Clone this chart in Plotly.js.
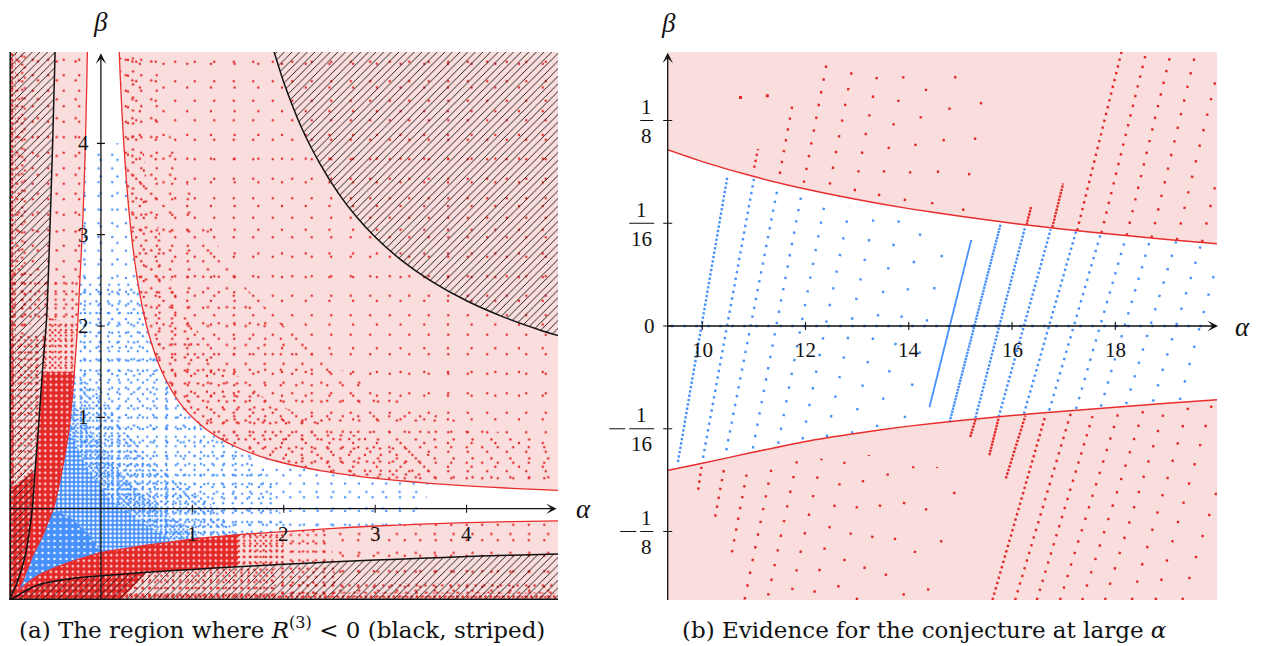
<!DOCTYPE html>
<html>
<head>
<meta charset="utf-8">
<script src="https://cdn.plot.ly/plotly-3.0.1.min.js"></script>
<style>
html,body{margin:0;padding:0;background:#ffffff;overflow:hidden;}
#chart{width:1262px;height:646px;}
</style>
</head>
<body>
<div id="chart"></div>
<script>
// ================= DATA =================
// ---- Panel (a): the (alpha, beta) plane, both axes from -1 to 5 ----
const aTicksA = [1, 2, 3, 4];
const bTicksA = [1, 2, 3, 4];

// upper red boundary curve
const upRedA_alpha = [0.197,0.21,0.23,0.25,0.275,0.3,0.33,0.36,0.4,0.45,0.5,0.56,0.63,0.7,0.8,0.9,1.0,1.15,1.3,1.5,1.75,2.0,2.4,2.8,3.2,3.6,4.0,4.5,5.0];
const upRedA_beta  = [5.08,4.76,4.35,4.0,3.64,3.33,3.03,2.78,2.5,2.22,2.0,1.79,1.59,1.43,1.25,1.11,1.0,0.87,0.77,0.667,0.571,0.5,0.417,0.357,0.3125,0.278,0.25,0.222,0.2];
// left red boundary curve (listed by beta)
const leftRedA_beta  = [-0.97,-0.9,-0.8,-0.7,-0.6,-0.52,-0.4,-0.3,-0.15,0,0.25,0.5,0.86,1.2,1.5,2.0,2.5,3.0,3.5,4.0,4.5,5.05];
const leftRedA_alpha = [-0.97,-0.91,-0.86,-0.82,-0.78,-0.75,-0.69,-0.64,-0.58,-0.52,-0.46,-0.41,-0.35,-0.315,-0.29,-0.255,-0.23,-0.205,-0.185,-0.17,-0.158,-0.147];
// lower red boundary curve
const lowRedA_alpha = [-0.97,-0.9,-0.8,-0.7,-0.6,-0.5,-0.374,-0.2,0,0.25,0.5,0.8,1.084,1.5,2.0,2.5,3.0,3.5,4.0,4.5,5.0];
const lowRedA_beta  = [-0.97,-0.9,-0.81,-0.74,-0.69,-0.645,-0.598,-0.54,-0.48,-0.44,-0.40,-0.36,-0.324,-0.285,-0.252,-0.218,-0.19,-0.17,-0.153,-0.142,-0.133];
// black curves bounding the striped region R^(3) < 0
const leftBlackA_beta  = [-1.0,-0.82,-0.525,-0.3,0,0.42,0.862,1.5,2.1,3.09,4.0,5.05];
const leftBlackA_alpha = [-1.0,-0.92,-0.83,-0.79,-0.75,-0.72,-0.685,-0.64,-0.593,-0.557,-0.528,-0.50];
const lowBlackA_alpha = [-1.0,-0.9,-0.8,-0.7,-0.6,-0.374,-0.2,0,0.5,1.0,1.5,2.0,2.5,3.0,3.5,4.0,4.5,5.05];
const lowBlackA_beta  = [-1.0,-0.945,-0.885,-0.84,-0.812,-0.773,-0.752,-0.735,-0.695,-0.665,-0.636,-0.609,-0.585,-0.563,-0.543,-0.525,-0.509,-0.494];
const urBlackA_alpha = [1.87,2.0,2.2,2.4,2.6,2.8,3.0,3.3,3.6,4.0,4.4,4.8,5.05];
const urBlackA_beta  = [5.08,4.67,4.16,3.77,3.45,3.19,2.975,2.71,2.50,2.276,2.10,1.957,1.88];
// edges of the density zones of the dots
const d0Edge_alpha = [-0.3,-0.12];
const d0Edge_beta  = [-0.12,-0.3];
const d1Edge_alpha = [-0.15,0.1,0.45];
const d1Edge_beta  = [0.45,0.1,-0.15];
const d1bEdge_alpha = [-0.08,0.3,0.75];
const d1bEdge_beta  = [0.8,0.3,-0.08];
const d2Edge_alpha = [-0.05,0.5,1.2];
const d2Edge_beta  = [1.3,0.55,0.05];
const bandA_alpha = [0.55,0.8,1.2,1.6,2.0,2.5,3.0,3.6,4.3,5.05];
const bandA_beta  = [5.1,3.9,3.0,2.4,2.0,1.6,1.3,1.05,0.85,0.7];
const bandB_alpha = [0.35,0.5,0.8,1.2,1.8,2.6,3.6];
const bandB_beta  = [5.1,3.6,2.4,1.7,1.2,0.85,0.6];

// ---- Panel (b): large alpha, beta in [-1/6, 1/6] ----
const aTicksB = [10, 12, 14, 16, 18];
const bTicksB = [-0.125, -0.0625, 0, 0.0625, 0.125];
const upRedB_alpha  = [9.3,10,11,12,13,14,15,16,17,18,19,20];
const upRedB_beta   = [0.1075,0.1,0.0909,0.0833,0.0769,0.0714,0.0667,0.0625,0.0588,0.0556,0.0526,0.05];
const lowRedB_alpha = [9.3,10,11,12,13,14,15,16,17,18,19,20];
const lowRedB_beta  = [-0.0880,-0.0835,-0.0767,-0.0702,-0.0652,-0.0609,-0.0575,-0.0545,-0.0518,-0.0494,-0.0470,-0.0448];
// rows of dots: [alpha start, beta start, alpha end, beta end]
const blueRowsB = [
  [9.528,-0.0827,10.486,0.0907],[10.014,-0.0802,11.0,0.0895],[10.465,-0.0756,11.47,0.0857],
  [10.98,-0.0745,11.92,0.0800],[11.47,-0.0716,12.38,0.0760],[11.94,-0.0690,12.86,0.0730],
  [12.41,-0.0675,13.35,0.0700],[12.90,-0.0655,13.82,0.0660],[13.38,-0.0615,14.25,0.0600],
  [13.92,-0.0560,14.67,0.0470],[14.40,-0.0494,15.21,0.0524],[14.79,-0.0585,15.78,0.0621],
  [15.29,-0.0560,16.25,0.0599],[15.74,-0.0554,16.75,0.0589],[16.23,-0.0534,17.24,0.0575],
  [16.72,-0.0514,17.71,0.0554],[17.24,-0.0504,18.21,0.0545],[17.72,-0.0490,18.68,0.0530],
  [18.21,-0.0475,19.18,0.0515],[18.73,-0.0460,19.67,0.0505],[19.25,-0.0450,19.97,0.0380]
];
const axisRowB = [[9.4,0,19.9,0]];
const redUpRowsB = [
  [11.004,0.0962,11.08,0.1077],[11.50,0.0925,11.747,0.1347],[11.966,0.0871,12.436,0.1640],
  [12.468,0.0860,12.938,0.1620],[12.951,0.0820,13.422,0.1580],[13.42,0.0790,13.906,0.1533],
  [13.92,0.0760,14.36,0.1480],[14.45,0.0740,14.95,0.1600],[15.05,0.0700,15.45,0.1450],
  [16.28,0.0615,16.37,0.0726],[16.78,0.0600,16.99,0.0867],[17.26,0.0580,18.12,0.1667],
  [17.73,0.0565,18.60,0.1667],[18.22,0.0550,19.08,0.1667],[18.70,0.0536,19.56,0.1667],
  [19.19,0.0522,19.97,0.1530],[19.68,0.0510,19.97,0.0900]
];
const redLowRowsB = [
  [9.92,-0.0996,9.985,-0.0856],[10.25,-0.1160,10.42,-0.0872],[10.574,-0.1377,10.857,-0.0903],
  [10.82,-0.1663,11.34,-0.0868],[11.275,-0.1640,11.86,-0.0781],[11.74,-0.1606,12.31,-0.0807],
  [12.17,-0.1622,12.77,-0.0811],[12.63,-0.1590,13.23,-0.0785],[12.99,-0.1667,13.73,-0.0727],
  [13.55,-0.1520,14.09,-0.0853],[13.895,-0.1640,14.55,-0.0858],[14.37,-0.1610,14.89,-0.1004],
  [15.19,-0.0675,15.29,-0.0570],[15.56,-0.0786,15.74,-0.0560],[15.88,-0.0927,16.26,-0.0545],
  [15.62,-0.1667,16.65,-0.0540],[16.06,-0.1667,17.14,-0.0529],[16.48,-0.1667,17.56,-0.0548],
  [16.93,-0.1667,18.08,-0.0508],[17.36,-0.1667,18.56,-0.0497],[17.80,-0.1667,18.98,-0.0486],
  [18.32,-0.1667,19.43,-0.0477],[18.78,-0.1667,19.88,-0.0467],[19.30,-0.1667,19.97,-0.1000]
];
const redDotsB_alpha = [10.74, 11.26];
const redDotsB_beta  = [0.139, 0.140];

const captionA = '(a) The region where <i>R</i><sup>(3)</sup> &lt; 0 (black, striped)';
const captionB = '(b) Evidence for the conjecture at large <i>α</i>';

// ================= STYLE =================
const PINK = 'rgb(250,221,221)';
const RED = 'rgb(228,40,40)';
const REDLINE = 'rgb(233,45,45)';
const BLUE = 'rgb(72,145,252)';
const BLACK = '#111111';
const SPECK = 'rgb(252,212,212)';
const BSPECK = 'rgb(240,246,255)';
const SERIF = 'Liberation Serif, DejaVu Serif, serif';
const DOT = 2.4;
const blueRowPitch = [4.4,6.7,9,11.5,14,17,20,24,28,33,0,3.2,3.8,4.5,5.5,7.5,10,12,14,16,18];
const axisRowPitch = [12];
const redUpPitch = [6,11,13,16,19,24,28,32,36,3.2,3.4,7,10,12,14,16,18];
const redLowPitch = [7,9,11,13,15,19,22,27,32,37,44,50,3.2,3.2,3.8,5.5,8,9.5,12,14,16,18,20,22];
// pairs of lattice sizes (px) giving each dot density
const SPARSE = [19.5, 23.7], LOWMID = [15.5, 18.9], MID = [13, 15.8], BMID = [13.7, 16.6],
      MIDDENSE = [9.5, 11.6], MEDIUM = [8.4, 10.3], DENSE = [6.2, 7.6], VDENSE = [5.4, 6.6],
      EDGE = [4.6, 5.7], DENSEST = [4.4, 5.3];

// ================= BUILD =================
const seg = (a, i, j) => a.slice(i, j + 1);
const rev = a => a.slice().reverse();
const traces = [];
const TR = 'rgba(0,0,0,0)';

function area(xs, ys, pattern, xa, ya, solid) {
  const t = {type:'scatter', mode:'lines', x:xs, y:ys, xaxis:xa||'x', yaxis:ya||'y',
    fill:'toself', line:{width:0, color:TR}, hoverinfo:'skip', showlegend:false};
  if (pattern) { t.fillpattern = pattern; t.fillcolor = TR; } else { t.fillcolor = solid; }
  traces.push(t);
}
function dots(size, color, bg, r) {
  r = r || 1.2;
  return {shape:'.', size:size, solidity:Math.min(0.7, Math.PI*r*r/(size*size)), fgcolor:color, bgcolor:bg||TR};
}
function zone(xs, ys, sizes, color) { sizes.forEach(s => area(xs, ys, dots(s, color))); }
function curve(xs, ys, color, width, xa, ya) {
  traces.push({type:'scatter', mode:'lines', x:xs, y:ys, xaxis:xa||'x', yaxis:ya||'y',
    line:{color:color, width:width, shape:'spline', smoothing:0.6}, hoverinfo:'skip', showlegend:false});
}
function rows(ends, pitches, color, xa, ya) {
  ends.forEach((e, i) => {
    const p = pitches[i];
    traces.push({type:'scatter', mode:'lines', x:[e[0], e[2]], y:[e[1], e[3]], xaxis:xa, yaxis:ya,
      hoverinfo:'skip', showlegend:false,
      line:{color:color, width: p <= DOT ? 1.8 : DOT, dash: p <= DOT ? 'solid' : (DOT + 'px,' + (p - DOT).toFixed(2) + 'px')}});
  });
}

// ---- panel (a) ----
// white region between the red curves
area(rev(leftRedA_alpha).concat(lowRedA_alpha.slice(1), [5.05, 5.05], rev(upRedA_alpha)),
     rev(leftRedA_beta).concat(lowRedA_beta.slice(1), [-0.133, 0.2], rev(upRedA_beta)), null, 'x', 'y', '#ffffff');
// blue dot zones (density grows towards the corner)
zone(seg(leftRedA_alpha,0,19).concat(seg(upRedA_alpha,3,25), rev(seg(lowRedA_alpha,0,17))),
     seg(leftRedA_beta,0,19).concat(seg(upRedA_beta,3,25), rev(seg(lowRedA_beta,0,17))), BMID, BLUE);
zone(seg(leftRedA_alpha,0,16).concat(seg(upRedA_alpha,8,19), [1.9], rev(seg(lowRedA_alpha,0,14))),
     seg(leftRedA_beta,0,16).concat(seg(upRedA_beta,8,19), [0.3], rev(seg(lowRedA_beta,0,14))), MIDDENSE, BLUE);
zone(seg(leftRedA_alpha,0,14).concat(d2Edge_alpha, rev(seg(lowRedA_alpha,0,13))),
     seg(leftRedA_beta,0,14).concat(d2Edge_beta, rev(seg(lowRedA_beta,0,13))), DENSE, BLUE);
zone(seg(leftRedA_alpha,0,13).concat(d1bEdge_alpha, rev(seg(lowRedA_alpha,0,12))),
     seg(leftRedA_beta,0,13).concat(d1bEdge_beta, rev(seg(lowRedA_beta,0,12))), DENSEST, BLUE);
area(seg(leftRedA_alpha,0,12).concat(d1Edge_alpha, rev(seg(lowRedA_alpha,0,11))),
     seg(leftRedA_beta,0,12).concat(d1Edge_beta, rev(seg(lowRedA_beta,0,11))), dots(4.3, BSPECK, BLUE, 1.4));
area(seg(leftRedA_alpha,0,9).concat(d0Edge_alpha, rev(seg(lowRedA_alpha,0,8))),
     seg(leftRedA_beta,0,9).concat(d0Edge_beta, rev(seg(lowRedA_beta,0,8))), dots(6, BSPECK, BLUE, 1.2));
// red dot zones, left side
// solid part: strip between the black and red curves up to beta 1.5, striped part up to about beta 0.2..0.4
area([-1.02,-1.02].concat(seg(leftBlackA_alpha,5,7), rev(seg(leftRedA_alpha,0,14))),
     [-1.02,0.2].concat(seg(leftBlackA_beta,5,7), rev(seg(leftRedA_beta,0,14))), dots(5.5, SPECK, RED, 1.3));
zone(seg(leftBlackA_alpha,7,8).concat(rev(seg(leftRedA_alpha,14,15))), seg(leftBlackA_beta,7,8).concat(rev(seg(leftRedA_beta,14,15))),
     VDENSE, RED);
zone([-1.02,-1.02,-0.6].concat(rev(seg(leftBlackA_alpha,5,7))), [0.2,1.9,1.9].concat(rev(seg(leftBlackA_beta,5,7))), DENSE, RED);
zone([-1.02,-1.02].concat(rev(seg(leftRedA_alpha,15,16)), [-0.593]), [1.9,2.6].concat(rev(seg(leftRedA_beta,15,16)), [2.1]),
     MEDIUM, RED);
zone([-1.02,-1.02].concat(rev(seg(leftRedA_alpha,16,21))), [2.6,5.1].concat(rev(seg(leftRedA_beta,16,21))), LOWMID, RED);
zone([-1.02,-0.93,-0.93,-1.02], [0.2,0.2,5.1,5.1], EDGE, RED);
zone([-0.93,-0.82,-0.82,-0.93], [1.9,1.9,5.1,5.1], MEDIUM, RED);
// red dot zones, bottom
area(seg(lowRedA_alpha,0,13).concat([1.5,1.0,0.5,0.2,-1.02]), seg(lowRedA_beta,0,13).concat([-0.636,-0.665,-0.695,-1.02,-1.02]),
     dots(5.5, SPECK, RED, 1.3));
zone(seg(lowRedA_alpha,13,14).concat([2.0,1.5]), seg(lowRedA_beta,13,14).concat([-0.609,-0.636]), VDENSE, RED);
zone([0.2,1.9,1.9,1.5,1.0,0.5], [-1.02,-1.02,-0.615,-0.636,-0.665,-0.695], DENSE, RED);
zone(seg(lowRedA_alpha,14,15).concat([2.6,1.9,1.9,2.0]), seg(lowRedA_beta,14,15).concat([-1.02,-1.02,-0.615,-0.609]), MEDIUM, RED);
zone(seg(lowRedA_alpha,15,20).concat([5.05,5.05,2.6]), seg(lowRedA_beta,15,20).concat([-0.133,-1.02,-1.02]), LOWMID, RED);
zone([0.2,5.05,5.05,0.2], [-1.02,-1.02,-0.93,-0.93], EDGE, RED);
zone([1.9,5.05,5.05,1.9], [-0.93,-0.93,-0.82,-0.82], MEDIUM, RED);
// red dot zones, upper right
zone(upRedA_alpha.concat([5.05,5.05,0.197]), upRedA_beta.concat([0.2,5.1,5.1]), SPARSE, RED);
zone(upRedA_alpha.concat([5.05], rev(bandA_alpha)), upRedA_beta.concat([0.2], rev(bandA_beta)), LOWMID, RED);
zone(seg(upRedA_alpha,0,25).concat(rev(bandB_alpha)), seg(upRedA_beta,0,25).concat(rev(bandB_beta)), MID, RED);
// striped regions (R^(3) < 0)
const hatch = {shape:'/', size:5.4, solidity:0.17, fgcolor:BLACK, bgcolor:TR};
area([-1.02,-1.02].concat(rev(leftBlackA_alpha)), [-1.02,5.1].concat(rev(leftBlackA_beta)), hatch);
area(lowBlackA_alpha.concat([5.05,-1.02]), lowBlackA_beta.concat([-1.02,-1.02]), hatch);
area(urBlackA_alpha.concat([5.1,5.1]), urBlackA_beta.concat([1.88,5.1]), hatch);
// curves
curve(upRedA_alpha, upRedA_beta, REDLINE, 1.3);
curve(leftRedA_alpha, leftRedA_beta, REDLINE, 1.3);
curve(lowRedA_alpha, lowRedA_beta, REDLINE, 1.3);
curve(leftBlackA_alpha, leftBlackA_beta, BLACK, 1.5);
curve(lowBlackA_alpha, lowBlackA_beta, BLACK, 1.5);
curve(urBlackA_alpha, urBlackA_beta, BLACK, 1.5);
curve([-1,-1], [-1,5.1], BLACK, 3);
curve([-1,5.1], [-1,-1], BLACK, 3);

// ---- panel (b) ----
area(upRedB_alpha.concat(rev(lowRedB_alpha)), upRedB_beta.concat(rev(lowRedB_beta)), null, 'x2', 'y2', '#ffffff');
rows(axisRowB, axisRowPitch, BLUE, 'x2', 'y2');
rows(blueRowsB, blueRowPitch, BLUE, 'x2', 'y2');
rows(redUpRowsB, redUpPitch, RED, 'x2', 'y2');
rows(redLowRowsB, redLowPitch, RED, 'x2', 'y2');
traces.push({type:'scatter', mode:'markers', x:redDotsB_alpha, y:redDotsB_beta, xaxis:'x2', yaxis:'y2',
  marker:{size:3, color:RED, symbol:'square'}, hoverinfo:'skip', showlegend:false});
curve(upRedB_alpha, upRedB_beta, REDLINE, 1.5, 'x2', 'y2');
curve(lowRedB_alpha, lowRedB_beta, REDLINE, 1.5, 'x2', 'y2');

// ---- axes, ticks, labels ----
const ann = [];
const shapes = [];
const tickFont = {family:SERIF, size:21, color:BLACK};
const greekFont = {family:SERIF, size:27, color:BLACK};
function arrow(xr, yr, x, y, ax, ay) {
  ann.push({xref:xr, yref:yr, axref:xr, ayref:yr, x:x, y:y, ax:ax, ay:ay, text:'', showarrow:true,
    arrowhead:3, arrowsize:1.35, arrowwidth:1.3, arrowcolor:BLACK, standoff:0, startstandoff:0,
    borderpad:0, borderwidth:0});
}
// a short horizontal stroke from px0 to px1 pixels right of the point (x, y); not clipped by the plot area
function stroke(xr, yr, x, y, px0, px1, w) {
  ann.push({xref:xr, yref:yr, x:x, y:y, text:'', showarrow:true, arrowhead:0, ax:px0 - px1, ay:0,
    xshift:px1, arrowwidth:w, arrowcolor:BLACK, standoff:0, startstandoff:0, borderpad:0, borderwidth:0});
}
function txt(xr, yr, x, y, s, font, xs, ys) {
  ann.push({xref:xr, yref:yr, x:x, y:y, text:s, showarrow:false, font:font, xanchor:'center', yanchor:'middle',
    xshift:xs||0, yshift:ys||0});
}
function vTick(xr, yr, x, y) {
  shapes.push({type:'line', xref:xr, yref:yr, ysizemode:'pixel', yanchor:y, y0:-4, y1:4, x0:x, x1:x,
    line:{color:BLACK, width:1.1}, layer:'above'});
}
function hTick(xr, yr, x, y) {
  shapes.push({type:'line', xref:xr, yref:yr, xsizemode:'pixel', xanchor:x, x0:-4, x1:4, y0:y, y1:y,
    line:{color:BLACK, width:1.1}, layer:'above'});
}
// panel (a)
arrow('x','y', 4.985, 0, -1, 0);
arrow('x','y', 0, 4.985, 0, -1);
aTicksA.forEach(v => { vTick('x','y', v, 0); txt('x','y', v, 0, String(v), tickFont, 0, -25); });
bTicksA.forEach(v => { hTick('x','y', 0, v); txt('x','y', 0, v, String(v), tickFont, -17, 0); });
txt('paper','paper', 583/1262, (646-509)/646, '<i>α</i>', greekFont);
txt('paper','paper', 100.9/1262, (646-22)/646, '<i>β</i>', greekFont);
// panel (b)
arrow('x2','y2', 19.99, 0, 9.33, 0);
arrow('x2','y2', 9.33, 0.1662, 9.33, -0.1667);
aTicksB.forEach(v => { vTick('x2','y2', v, 0); txt('x2','y2', v, 0, String(v), tickFont, 0, -24); });
bTicksB.forEach(v => stroke('x2','y2', 9.33, v, -4.5, 4.5, 1.1));
txt('x2','y2', 9.33, 0, '0', tickFont, -18.4, 0);
bTicksB.forEach(v => {
  if (v === 0) return;
  const den = Math.abs(v) === 0.125 ? '8' : '16';
  const xc = den === '8' ? -21 : -26;
  const half = den === '8' ? 6.5 : 12.5;
  stroke('x2','y2', 9.33, v, xc - half, xc + half, 1);
  txt('x2','y2', 9.33, v, '1', tickFont, xc, 13.5);
  txt('x2','y2', 9.33, v, den, tickFont, xc, -15.3);
  if (v < 0) stroke('x2','y2', 9.33, v, xc - half - 20, xc - half - 4, 1.1);
});
txt('paper','paper', 1242/1262, (646-326.5)/646, '<i>α</i>', greekFont);
txt('paper','paper', 668/1262, (646-23)/646, '<i>β</i>', greekFont);
// captions (anchored at their bottom so that nothing is cut at the lower edge)
const capFont = {family:'DejaVu Serif, serif', size:23, color:BLACK};
ann.push({xref:'paper', yref:'paper', x:282/1262, y:1.5/646, text:captionA, showarrow:false,
  font:capFont, xanchor:'center', yanchor:'bottom'});
ann.push({xref:'paper', yref:'paper', x:924.5/1262, y:1.5/646, text:captionB, showarrow:false,
  font:capFont, xanchor:'center', yanchor:'bottom'});

const axBase = {showgrid:false, zeroline:false, showticklabels:false, showline:false, ticks:'', fixedrange:true};
const layout = {
  width:1262, height:646, margin:{l:0, r:0, t:0, b:0}, paper_bgcolor:'#ffffff', plot_bgcolor:PINK,
  showlegend:false, hovermode:false,
  xaxis:Object.assign({}, axBase, {domain:[9.5/1262, 558/1262], range:[-1, 5], anchor:'y'}),
  yaxis:Object.assign({}, axBase, {domain:[46/646, 594/646], range:[-1, 5], anchor:'x'}),
  xaxis2:Object.assign({}, axBase, {domain:[667.7/1262, 1217/1262], range:[9.33, 19.97], anchor:'y2'}),
  yaxis2:Object.assign({}, axBase, {domain:[46/646, 594/646], range:[-1/6, 1/6], anchor:'x2'}),
  annotations:ann, shapes:shapes
};
Plotly.newPlot('chart', traces, layout, {staticPlot:true, displayModeBar:false});
</script>
</body>
</html>
